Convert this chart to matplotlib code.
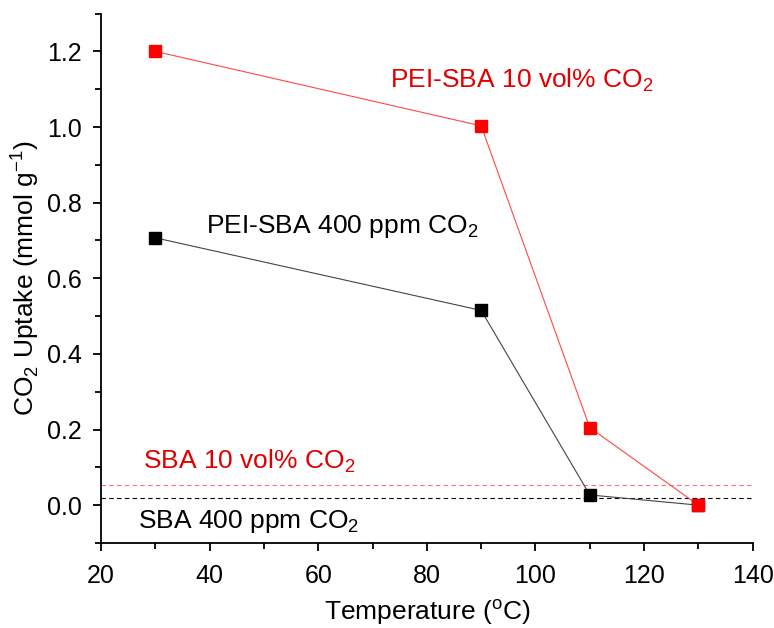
import numpy as np
import matplotlib
matplotlib.use('Agg')
import matplotlib.pyplot as plt
from matplotlib.ticker import MultipleLocator, FormatStrFormatter

plt.rcParams['font.family'] = ['Liberation Sans', 'DejaVu Sans']
plt.rcParams['mathtext.fontset'] = 'custom'
plt.rcParams['mathtext.rm'] = 'Liberation Sans'

temps = [30, 90, 110, 130]
pei_10vol = [1.20, 1.003, 0.205, 0.0]
pei_400ppm = [0.707, 0.515, 0.027, 0.0]
sba_10vol = 0.052
sba_400ppm = 0.018

fig = plt.figure(figsize=(7.74, 6.28), dpi=100)
ax = fig.add_axes([0.1305, 0.1354, 0.842, 0.843])

ax.plot(temps, pei_400ppm, color='#444444', lw=0.8, marker='s', ms=8.3,
        mfc='black', mec='black', zorder=3)
ax.plot(temps, pei_10vol, color='#ff4848', lw=0.8, marker='s', ms=8.3,
        mfc='red', mec='red', zorder=4)

ax.axhline(sba_10vol, color='#ff7070', lw=0.8, ls=(0, (4, 3)), zorder=2)
ax.axhline(sba_400ppm, color='black', lw=0.8, ls=(0, (4, 3)), zorder=2)

ax.text(73.2, 1.105, 'PEI-SBA 10 vol% CO$_2$', color='#e00000', fontsize=19, va='baseline')
ax.text(39.3, 0.719, 'PEI-SBA 400 ppm CO$_2$', color='black', fontsize=19, va='baseline')
ax.text(27.7, 0.098, 'SBA 10 vol% CO$_2$', color='#e00000', fontsize=19, va='baseline')
ax.text(26.8, -0.061, 'SBA 400 ppm CO$_2$', color='black', fontsize=19, va='baseline')

ax.set_xlim(20, 140)
ax.set_ylim(-0.1, 1.3)
ax.xaxis.set_major_locator(MultipleLocator(20))
ax.xaxis.set_minor_locator(MultipleLocator(10))
ax.yaxis.set_major_locator(MultipleLocator(0.2))
ax.yaxis.set_minor_locator(MultipleLocator(0.1))
ax.yaxis.set_major_formatter(FormatStrFormatter('%.1f'))

ax.spines['top'].set_visible(False)
ax.spines['right'].set_visible(False)
ax.spines['left'].set_linewidth(1.3)
ax.spines['bottom'].set_linewidth(1.3)
ax.tick_params(which='major', direction='out', length=6, width=1.3, labelsize=18)
ax.tick_params(axis='y', which='major', pad=8)
ax.tick_params(axis='x', which='major', pad=9)
ax.tick_params(which='minor', direction='out', length=4, width=1.3)

ax.set_xlabel('Temperature ($^{\\rm o}$C)', fontsize=19, labelpad=7)
ax.set_ylabel('CO$_2$ Uptake (mmol g$^{-1}$)', fontsize=19, labelpad=4)

fig.savefig('out.png', dpi=100)
